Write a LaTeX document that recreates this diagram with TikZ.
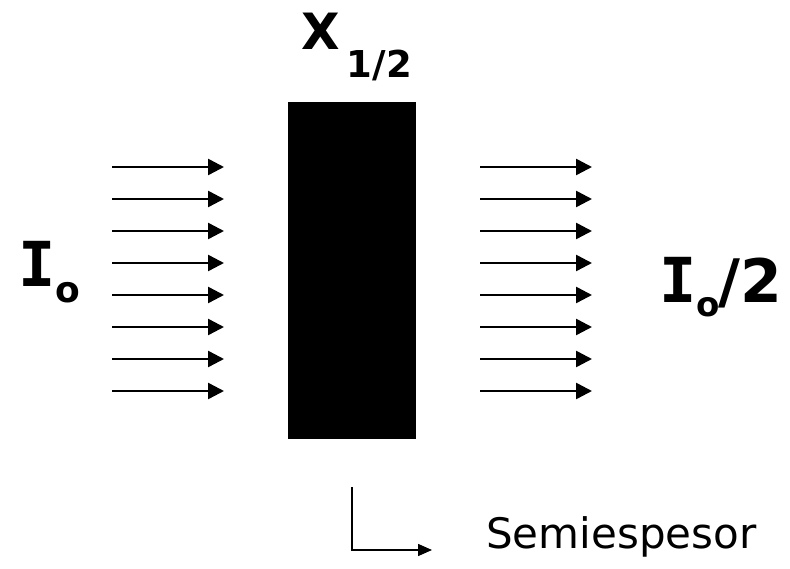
\documentclass[tikz,border=0pt]{standalone}
\usepackage{fontspec}
\setmainfont{DejaVu Sans}
\newfontfamily\monofnt{DejaVu Sans Mono Bold}
\newfontfamily\boldfnt{DejaVu Sans Bold}
\usetikzlibrary{arrows.meta}
\begin{document}
\begin{tikzpicture}[x=1pt,y=-1pt,
  ray/.style={line width=2.5pt,-{Triangle[length=16pt,width=16pt]}},
  thinray/.style={line width=1.5pt,-{Triangle[length=14pt,width=12pt]}},
  lbl/.style={inner sep=0pt,anchor=base west,font=\boldfnt},
  slab/.style={fill=black,draw=none,minimum width=128pt,minimum height=337pt,inner sep=0pt}]
\useasboundingbox (0,0) rectangle (790,569);
\node[slab] (slab) at (352,270.5) {};
\foreach \i in {0,...,7}{
  \pgfmathsetmacro{\yy}{167+32*\i}
  \coordinate (ls\i) at (112,\yy);
  \coordinate (le\i) at (224,\yy);
  \coordinate (rs\i) at (480,\yy);
  \coordinate (re\i) at (592,\yy);
  \draw[ray] (ls\i) -- (le\i);
  \draw[ray] (rs\i) -- (re\i);
}
% X_{1/2}
\node[lbl] (xlab) at (301,50) {\fontsize{50}{50}\selectfont X\kern7pt\raisebox{-28pt}{\fontsize{37}{37}\selectfont 1/2}};
% I_o
\node[lbl] (iin) at (18,287) {{\monofnt\fontsize{62}{62}\selectfont I}\raisebox{-16pt}{\fontsize{36}{36}\selectfont o}};
% I_o/2
\node[lbl] (iout) at (659,303) {{\monofnt\fontsize{62}{62}\selectfont I}\raisebox{-14pt}{\fontsize{34}{34}\selectfont o}\kern-1pt{\fontsize{60}{60}\selectfont /2}};
% connector
\coordinate (c1) at (352,487);
\coordinate (c2) at (432,550);
\draw[thinray] (c1) |- (c2);
\node[inner sep=0pt,anchor=base west,font=\fontsize{42}{42}\selectfont] (semi) at (486,548) {Semiespesor};
\end{tikzpicture}
\end{document}
